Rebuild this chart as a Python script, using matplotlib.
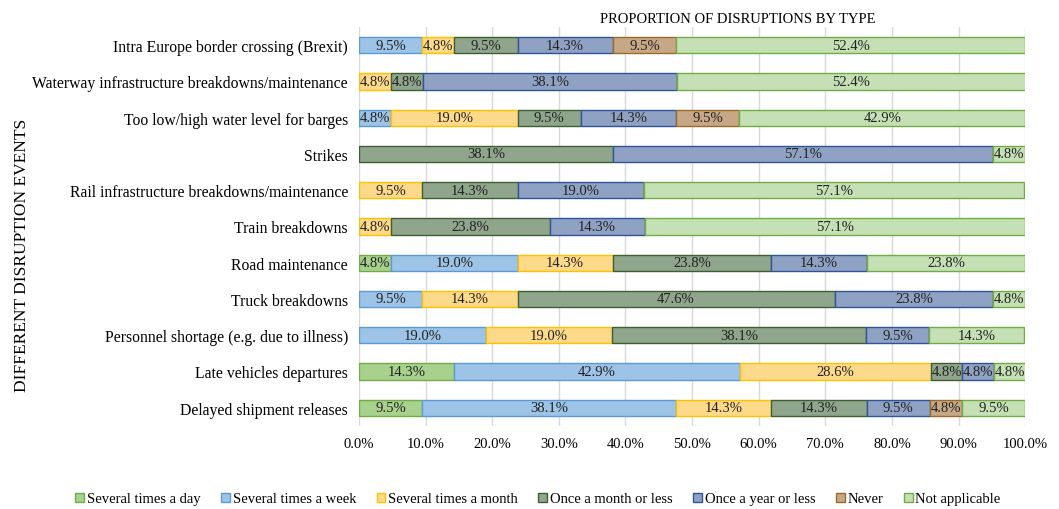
import matplotlib
matplotlib.use("Agg")
import matplotlib.pyplot as plt
import numpy as np

plt.rcParams['font.family'] = ['Liberation Serif', 'DejaVu Serif']

categories = [
    "Intra Europe border crossing (Brexit)",
    "Waterway infrastructure breakdowns/maintenance",
    "Too low/high water level for barges",
    "Strikes",
    "Rail infrastructure breakdowns/maintenance",
    "Train breakdowns",
    "Road maintenance",
    "Truck breakdowns",
    "Personnel shortage (e.g. due to illness)",
    "Late vehicles departures",
    "Delayed shipment releases",
]

series_names = ["Several times a day", "Several times a week", "Several times a month",
                "Once a month or less", "Once a year or less", "Never", "Not applicable"]

several_day   = [0, 0, 0, 0, 0, 0, 4.8, 0, 0, 14.3, 9.5]
several_week  = [9.5, 0, 4.8, 0, 0, 0, 19.0, 9.5, 19.0, 42.9, 38.1]
several_month = [4.8, 4.8, 19.0, 0, 9.5, 4.8, 14.3, 14.3, 19.0, 28.6, 14.3]
once_month    = [9.5, 4.8, 9.5, 38.1, 14.3, 23.8, 23.8, 47.6, 38.1, 4.8, 14.3]
once_year     = [14.3, 38.1, 14.3, 57.1, 19.0, 14.3, 14.3, 23.8, 9.5, 4.8, 9.5]
never         = [9.5, 0, 9.5, 0, 0, 0, 0, 0, 0, 0, 4.8]
not_applic    = [52.4, 52.4, 42.9, 4.8, 57.1, 57.1, 23.8, 4.8, 14.3, 4.8, 9.5]

series = [several_day, several_week, several_month, once_month, once_year, never, not_applic]

fills = ["#a9d18e", "#9dc3e6", "#fdd98a", "#8fa58c", "#8fa2c4", "#c6a786", "#c5e0b4"]
edges = ["#70ad47", "#5b9bd5", "#ffc000", "#3f5f32", "#2f5597", "#9c6a2a", "#70ad47"]

fig = plt.figure(figsize=(10.59, 5.10), dpi=100)
ax = fig.add_axes([0.339, 0.163, 0.629, 0.782])

y = np.arange(len(categories))
left = np.zeros(len(categories))
for name, vals, fc, ec in zip(series_names, series, fills, edges):
    vals = np.array(vals, dtype=float)
    ax.barh(y, vals, left=left, height=0.45, color=fc, edgecolor=ec,
            linewidth=1.0, label=name, zorder=3)
    for yi, (l, v) in enumerate(zip(left, vals)):
        if v > 0:
            ax.text(l + v / 2, yi, f"{v:.1f}%", ha='center', va='center',
                    fontsize=10.5, color='#222222', zorder=4)
    left += vals

ax.set_xlim(0, 100)
ax.set_ylim(len(categories) - 0.5, -0.5)
ax.set_yticks(y)
ax.set_yticklabels(categories, fontsize=11.3)
ax.set_xticks(np.arange(0, 101, 10))
ax.set_xticklabels([f"{v:.1f}%" for v in np.arange(0, 101, 10)], fontsize=10.5)
ax.tick_params(axis='both', length=0, pad=8)
ax.xaxis.grid(True, color='#d9d9d9', linewidth=1, zorder=0)
for s in ax.spines.values():
    s.set_visible(False)

fig.text(22 / 1059, 1 - 255 / 510, "DIFFERENT DISRUPTION EVENTS", rotation=90,
         ha='center', va='center', fontsize=12.5)

fig.text(0.697, 0.962, "PROPORTION OF DISRUPTIONS BY TYPE", ha='center', va='center', fontsize=10.5)

handles, labels = ax.get_legend_handles_labels()
fig.legend(handles, labels, loc='center', bbox_to_anchor=(0.508, 0.02), ncol=7,
           frameon=False, fontsize=10.5, handlelength=0.6, handleheight=0.6,
           handletextpad=0.2, columnspacing=1.4)

fig.savefig("out.png", dpi=100)
